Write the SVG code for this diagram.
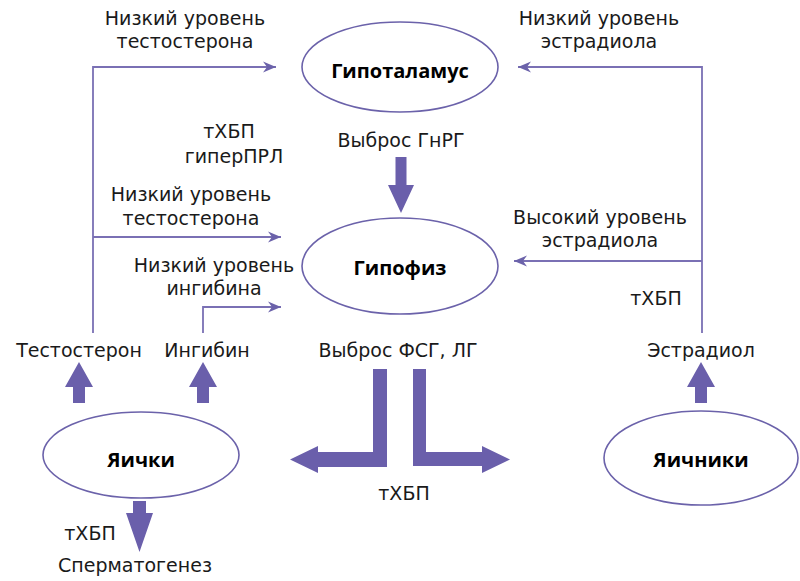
<svg xmlns="http://www.w3.org/2000/svg" width="800" height="581" viewBox="0 0 800 581">
<defs>
<style>
.t{font-family:"DejaVu Sans","Open Sans",sans-serif;font-size:19px;fill:#1a1a1a;text-anchor:middle}
.b{font-family:"Open Sans","Liberation Sans",sans-serif;font-size:20px;font-weight:bold;fill:#000;text-anchor:middle}
.node{fill:#fff;stroke:#6b62aa;stroke-width:1.6}
.ln{fill:none;stroke:#7a70b4;stroke-width:1.8}
.big{fill:#6a5fab;stroke:none}
</style>
<marker id="ah" markerUnits="userSpaceOnUse" markerWidth="14" markerHeight="12" viewBox="-13 -6 14 12" refX="0" refY="0" orient="auto">
<path d="M0,0 L-13,-5.5 L-9,0 L-13,5.5 Z" fill="#6b62aa"/>
</marker>
</defs>
<rect width="800" height="581" fill="#fff"/>

<g id="connectors">
<path class="ln" d="M93,333 V67 H276" marker-end="url(#ah)"/>
<path class="ln" d="M93,237 H281" marker-end="url(#ah)"/>
<path class="ln" d="M203,333 V307 H281" marker-end="url(#ah)"/>
<path class="ln" d="M702,333 V67 H518" marker-end="url(#ah)"/>
<path class="ln" d="M702,261 H514" marker-end="url(#ah)"/>
<polygon class="big" points="395.5,157 406.5,157 406.5,185 414,185 401,213 388,185 395.5,185"/>
<polygon class="big" points="373,369 387,369 387,467 318,467 318,473 290,459.5 318,446 318,452 373,452"/>
<polygon class="big" points="413,369 426,369 426,452 482,452 482,446 510,459.5 482,473 482,466 413,466"/>
<polygon class="big" points="73,403 85,403 85,387 93,387 79,362 65,387 73,387"/>
<polygon class="big" points="197,403 209,403 209,387 217,387 203,362 189,387 197,387"/>
<polygon class="big" points="695,403 707,403 707,387 715,387 701,362 687,387 695,387"/>
<polygon class="big" points="133,501 146,501 146,513 153,513 139.5,552 126,513 133,513"/>
</g>

<g id="hypothalamus">
<ellipse class="node" cx="400" cy="67" rx="98" ry="45"/>
<text class="b" x="400" y="78">Гипоталамус</text>
</g>
<g id="pituitary">
<ellipse class="node" cx="400" cy="266" rx="98" ry="48"/>
<text class="b" x="400" y="275">Гипофиз</text>
</g>
<g id="testes">
<ellipse class="node" cx="141" cy="455" rx="98" ry="43"/>
<text class="b" x="141" y="467">Яички</text>
</g>
<g id="ovaries">
<ellipse class="node" cx="701" cy="458" rx="97" ry="47"/>
<text class="b" x="701" y="467">Яичники</text>
</g>

<g id="labels">
<text class="t"><tspan x="185" y="25">Низкий уровень</tspan><tspan x="185" y="48">тестостерона</tspan></text>
<text class="t"><tspan x="599" y="25">Низкий уровень</tspan><tspan x="599" y="48">эстрадиола</tspan></text>
<text class="t"><tspan x="229" y="138">тХБП</tspan><tspan x="234" y="163">гиперПРЛ</tspan></text>
<text class="t" x="401" y="147">Выброс ГнРГ</text>
<text class="t"><tspan x="191" y="201">Низкий уровень</tspan><tspan x="191" y="225">тестостерона</tspan></text>
<text class="t"><tspan x="214" y="272">Низкий уровень</tspan><tspan x="214" y="295">ингибина</tspan></text>
<text class="t"><tspan x="600" y="224">Высокий уровень</tspan><tspan x="600" y="247">эстрадиола</tspan></text>
<text class="t" x="656" y="305">тХБП</text>
<text class="t" x="79" y="357">Тестостерон</text>
<text class="t" x="207" y="357">Ингибин</text>
<text class="t" x="398" y="357">Выброс ФСГ, ЛГ</text>
<text class="t" x="701" y="357">Эстрадиол</text>
<text class="t" x="404" y="500">тХБП</text>
<text class="t" x="90" y="540">тХБП</text>
<text class="t" x="135" y="572">Сперматогенез</text>
</g>
</svg>
